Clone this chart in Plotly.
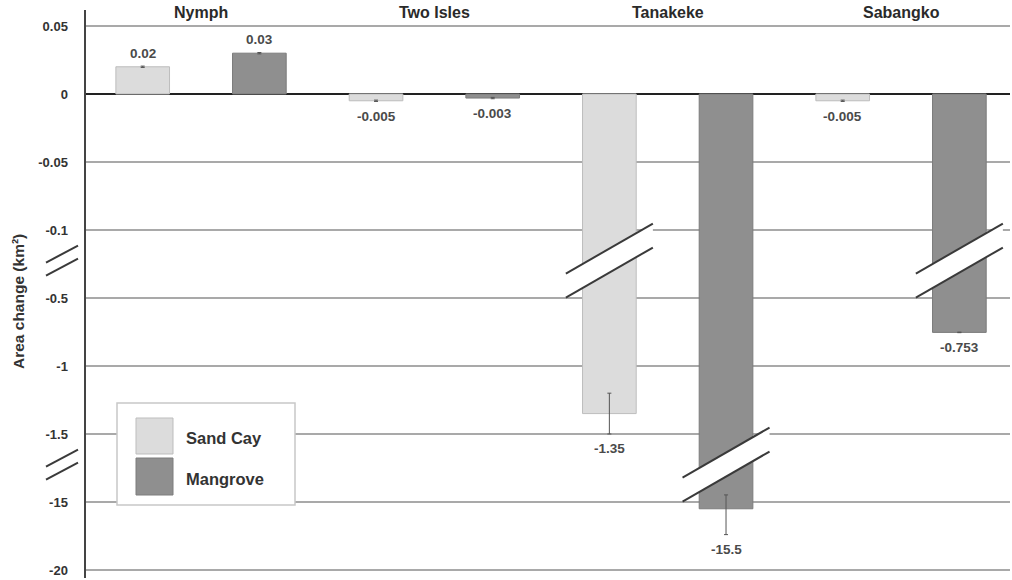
import numpy as np
import plotly.graph_objects as go

# ---------------- data ----------------
sites = ["Nymph", "Two Isles", "Tanakeke", "Sabangko"]
sand_cay = [0.02, -0.005, -1.35, -0.005]
mangrove = [0.03, -0.003, -15.5, -0.753]
sand_err = [0.0005, 0.0005, 0.15, 0.0005]
mangrove_err = [0.0005, 0.0005, 1.9, 0.002]
sand_labels = ["0.02", "-0.005", "-1.35", "-0.005"]
mangrove_labels = ["0.03", "-0.003", "-15.5", "-0.753"]
tick_values = [0.05, 0, -0.05, -0.1, -0.5, -1, -1.5, -15, -20]
tick_labels = ["0.05", "0", "-0.05", "-0.1", "-0.5", "-1", "-1.5", "-15", "-20"]
series_names = ["Sand Cay", "Mangrove"]

# ---------------- styling ----------------
FONT = "Liberation Sans"
SAND_FILL, SAND_LINE = "#dcdcdc", "#bdbdbd"
MANG_FILL, MANG_LINE = "#8f8f8f", "#7c7c7c"
GRID = "#a9a9a9"
W, H = 1012, 580
ML, MR, MT, MB = 86, 2, 10, 2
PW, PH = W - ML - MR, H - MT - MB

# broken-axis transform: each tick is one equal display step
tick_pos = [float(-i + 1) for i in range(len(tick_values))]  # 1,0,-1,...,-7
tv = np.array(tick_values[::-1])
tp = np.array(tick_pos[::-1])


def T(v):
    return np.interp(np.asarray(v, dtype=float), tv, tp)


break_centers = [-2.45, -5.45]   # display positions of the two axis breaks

xs = np.arange(len(sites))


def err_arrays(vals, errs):
    vals = np.array(vals)
    errs = np.array(errs)
    return T(vals + errs) - T(vals), T(vals) - T(vals - errs)


fig = go.Figure()
series = [
    (series_names[0], sand_cay, sand_err, SAND_FILL, SAND_LINE, sand_labels),
    (series_names[1], mangrove, mangrove_err, MANG_FILL, MANG_LINE, mangrove_labels),
]
for name, vals, errs, fill, line, _ in series:
    up, dn = err_arrays(vals, errs)
    fig.add_trace(go.Bar(
        name=name, x=xs, y=T(vals),
        marker=dict(color=fill, line=dict(color=line, width=1)),
        error_y=dict(type="data", symmetric=False, array=up, arrayminus=dn,
                     color="#555555", thickness=1, width=2),
        showlegend=False, hoverinfo="skip",
    ))

annotations = []
shapes = []
offsets = [-0.25, 0.25]

# data labels
for si, (name, vals, errs, fill, line, labels) in enumerate(series):
    up, dn = err_arrays(vals, errs)
    d = T(vals)
    for i, v in enumerate(vals):
        if v >= 0:
            y, shift = d[i] + up[i], 13
        else:
            y, shift = d[i] - dn[i], -15
        annotations.append(dict(
            x=xs[i] + offsets[si], y=y, xref="x", yref="y", text=labels[i],
            showarrow=False, yshift=shift, yanchor="middle",
            font=dict(family=FONT, size=13.5, color="#4a4a4a", weight="bold")))

# group labels
for i, s in enumerate(sites):
    annotations.append(dict(
        x=xs[i], y=1, xref="x", yref="paper", text=s, showarrow=False,
        yanchor="middle", yshift=-2,
        font=dict(family=FONT, size=16, color="#2a2a2a", weight="bold")))

# break marks on bars
XR = [-0.493, 3.467]
unit_px = PW / (XR[1] - XR[0])
hx = 43.5 / unit_px
hy = 25 / 68
off = 12 / 68
for si, (name, vals, *_rest) in enumerate(series):
    d = T(vals)
    for i in range(len(vals)):
        crossed = [b for b in break_centers if d[i] < b - 0.5]
        if not crossed:
            continue
        bc = min(crossed)
        cx = xs[i] + offsets[si]
        x1, x2 = cx - hx, cx + hx
        yt1, yt2 = bc + off - hy, bc + off + hy
        yb1, yb2 = bc - off - hy, bc - off + hy
        shapes.append(dict(type="path", xref="x", yref="y", layer="above",
                           path=f"M{x1},{yt1} L{x2},{yt2} L{x2},{yb2} L{x1},{yb1} Z",
                           fillcolor="white", line=dict(width=0)))
        for (ya, yb) in [(yt1, yt2), (yb1, yb2)]:
            shapes.append(dict(type="line", xref="x", yref="y", layer="above",
                               x0=x1, y0=ya, x1=x2, y1=yb,
                               line=dict(color="#3a3a3a", width=2)))


def px_x(p):
    return (p - ML) / PW


def px_y(p):
    return (H - MB - p) / PH


# break marks on y axis
for bc in break_centers:
    for o in (6.5 / 68, -6.5 / 68):
        shapes.append(dict(type="line", xref="paper", yref="y", layer="above",
                           x0=px_x(46), y0=bc + o - 8.5 / 68,
                           x1=px_x(78), y1=bc + o + 8.5 / 68,
                           line=dict(color="#3a3a3a", width=2)))

# custom legend
shapes.append(dict(type="rect", xref="paper", yref="paper", layer="above",
                   x0=px_x(117), x1=px_x(295), y0=px_y(505), y1=px_y(403),
                   fillcolor="white", line=dict(color="#c8c8c8", width=1.5)))
leg_rows = [(418, 454, SAND_FILL, SAND_LINE, series_names[0]),
            (458, 495, MANG_FILL, MANG_LINE, series_names[1])]
for y0, y1, fill, line, name in leg_rows:
    shapes.append(dict(type="rect", xref="paper", yref="paper", layer="above",
                       x0=px_x(136), x1=px_x(173), y0=px_y(y1), y1=px_y(y0),
                       fillcolor=fill, line=dict(color=line, width=1)))
    annotations.append(dict(x=px_x(184), y=px_y((y0 + y1) / 2 + 2), xref="paper",
                            yref="paper", text=name, showarrow=False,
                            xanchor="left", yanchor="middle",
                            font=dict(family=FONT, size=16.5, color="#333333",
                                      weight="bold")))

# y axis title
annotations.append(dict(x=px_x(18), y=px_y(302), xref="paper", yref="paper",
                        text="Area change (km²)", textangle=-90, showarrow=False,
                        xanchor="center", yanchor="middle",
                        font=dict(family=FONT, size=15.5, color="#333333",
                                  weight="bold")))

fig.update_layout(
    width=W, height=H, autosize=False,
    margin=dict(l=ML, r=MR, t=MT, b=MB, autoexpand=False),
    paper_bgcolor="white", plot_bgcolor="white",
    barmode="group", bargap=0, bargroupgap=0.54,
    showlegend=False,
    annotations=annotations, shapes=shapes,
    xaxis=dict(range=XR, showgrid=False, zeroline=False, automargin=False,
               showticklabels=False, ticks="", showline=False),
    yaxis=dict(range=[-7.118, 1.235], tickvals=tick_pos, ticktext=tick_labels,
               automargin=False,
               showgrid=True, gridcolor=GRID, gridwidth=1.6,
               zeroline=True, zerolinecolor="#222222", zerolinewidth=2.2,
               showline=True, linecolor="#444444", linewidth=2.5,
               ticks="", ticklabelstandoff=13,
               tickfont=dict(family=FONT, size=13, color="#333333", weight="bold")),
)

# remove the browser's default 8px page margin so the figure sits at (0, 0)
fig.write_html("out.html",
               config={"displayModeBar": False, "staticPlot": True},
               post_script="document.body.style.margin='0px';"
                           "document.body.style.overflow='hidden';")
